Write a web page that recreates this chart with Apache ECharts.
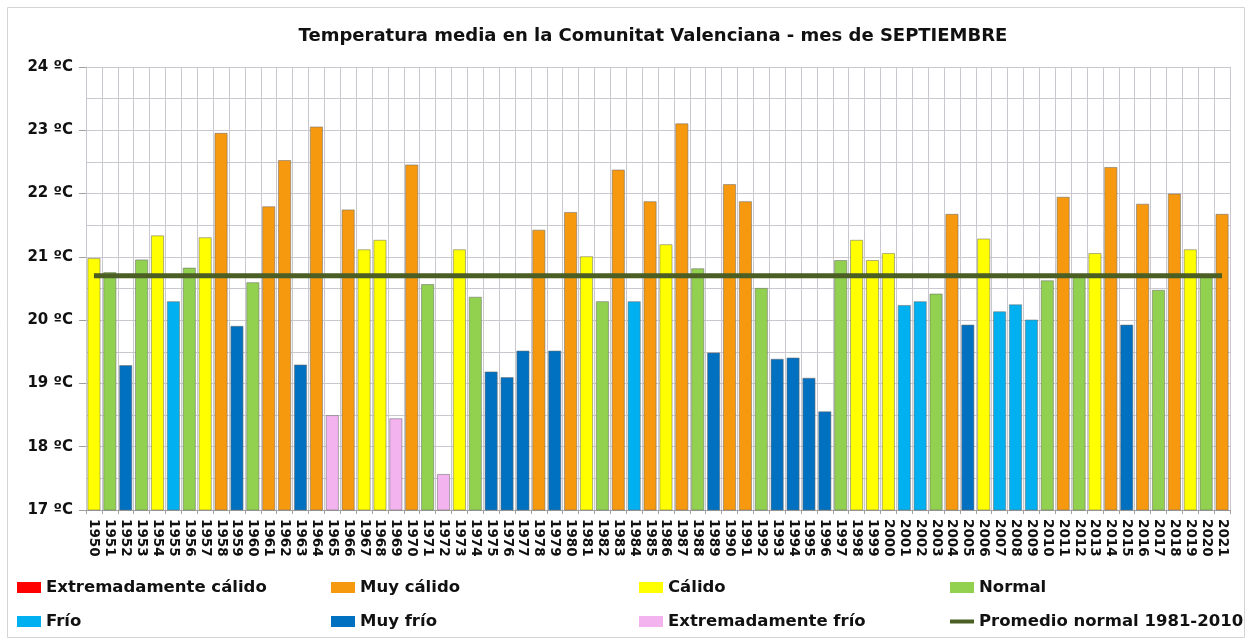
<!DOCTYPE html>
<html>
<head>
<meta charset="utf-8">
<script src="https://cdn.jsdelivr.net/npm/echarts@6/dist/echarts.min.js"></script>
<style>
  html, body { margin: 0; padding: 0; background: #fff; }
  #chart { width: 1250px; height: 641px; }
</style>
</head>
<body>
<div id="chart"></div>
<script>
const years = [
  1950, 1951, 1952, 1953, 1954, 1955, 1956, 1957, 1958, 1959,
  1960, 1961, 1962, 1963, 1964, 1965, 1966, 1967, 1968, 1969,
  1970, 1971, 1972, 1973, 1974, 1975, 1976, 1977, 1978, 1979,
  1980, 1981, 1982, 1983, 1984, 1985, 1986, 1987, 1988, 1989,
  1990, 1991, 1992, 1993, 1994, 1995, 1996, 1997, 1998, 1999,
  2000, 2001, 2002, 2003, 2004, 2005, 2006, 2007, 2008, 2009,
  2010, 2011, 2012, 2013, 2014, 2015, 2016, 2017, 2018, 2019,
  2020, 2021,
]

// temperatura media de septiembre (ºC)
const temps = [
  20.98, 20.76, 19.29, 20.96, 21.34, 20.30, 20.83, 21.31, 22.96, 19.91,
  20.60, 21.80, 22.53, 19.30, 23.06, 18.50, 21.75, 21.12, 21.27, 18.45,
  22.46, 20.57, 17.57, 21.12, 20.37, 19.19, 19.10, 19.52, 21.43, 19.52,
  21.71, 21.01, 20.30, 22.38, 20.30, 21.88, 21.20, 23.11, 20.82, 19.49,
  22.15, 21.88, 20.51, 19.39, 19.41, 19.09, 18.56, 20.95, 21.27, 20.95,
  21.06, 20.24, 20.30, 20.42, 21.68, 19.93, 21.29, 20.14, 20.25, 20.01,
  20.63, 21.95, 20.70, 21.06, 22.42, 19.93, 21.84, 20.48, 22.00, 21.12,
  20.72, 21.68,
]

// carácter de cada año: EC, MC, C, N, F, MF, EF
const classes = [
  'C', 'N', 'MF', 'N', 'C', 'F', 'N', 'C', 'MC', 'MF',
  'N', 'MC', 'MC', 'MF', 'MC', 'EF', 'MC', 'C', 'C', 'EF',
  'MC', 'N', 'EF', 'C', 'N', 'MF', 'MF', 'MF', 'MC', 'MF',
  'MC', 'C', 'N', 'MC', 'F', 'MC', 'C', 'MC', 'N', 'MF',
  'MC', 'MC', 'N', 'MF', 'MF', 'MF', 'MF', 'N', 'C', 'C',
  'C', 'F', 'F', 'N', 'MC', 'MF', 'C', 'F', 'F', 'F',
  'N', 'MC', 'N', 'C', 'MC', 'MF', 'MC', 'N', 'MC', 'C',
  'N', 'MC',
]

const classCodes = ['EC', 'MC', 'C', 'N', 'F', 'MF', 'EF']
const classNames = [
  'Extremadamente cálido', 'Muy cálido', 'Cálido', 'Normal',
  'Frío', 'Muy frío', 'Extremadamente frío',
]
const classColors = ['#ff0000', '#f7990f', '#ffff00', '#92d050', '#00b0f0', '#0070c0', '#f2b3ee']

const normalName = 'Promedio normal 1981-2010'
const normalValue = 20.70

const FONT = 'DejaVu Sans'
const GRID = '#c8c8ce'
const LINE = '#4b5e24'

const barSeries = classCodes.map((code, i) => ({
  name: classNames[i],
  type: 'bar',
  barGap: '-100%',
  barCategoryGap: '17%',
  data: temps.map((t, k) => (classes[k] === code ? t : '-')),
  itemStyle: { color: classColors[i], borderColor: 'rgba(110,110,110,0.55)', borderWidth: 1 },
  emphasis: { disabled: true },
}))

const legendText = { fontFamily: FONT, fontWeight: 'bold', fontSize: 16.5, color: '#111' }
function legendCol(left, top, names, h) {
  return {
    orient: 'vertical',
    left,
    top,
    itemGap: 17,
    itemWidth: 24,
    itemHeight: h || 11,
    icon: 'rect',
    itemStyle: { borderWidth: 0 },
    textStyle: legendText,
    data: names,
    selectedMode: false,
  }
}

const chart = echarts.init(document.getElementById('chart'))
chart.setOption({
  animation: false,
  backgroundColor: '#fff',
  textStyle: { fontFamily: FONT },
  title: {
    text: 'Temperatura media en la Comunitat Valenciana - mes de SEPTIEMBRE',
    left: 648,
    textAlign: 'center',
    top: 22,
    textStyle: { fontFamily: FONT, fontWeight: 'bold', fontSize: 18, color: '#111' },
  },
  graphic: [{
    type: 'rect',
    shape: { x: 7.5, y: 7.5, width: 1237, height: 630 },
    style: { fill: 'none', stroke: '#d4d4d4', lineWidth: 1 },
    silent: true,
  }],
  legend: [
    legendCol(12, 574, [classNames[0], classNames[4]]),
    legendCol(326, 574, [classNames[1], classNames[5]]),
    legendCol(634, 574, [classNames[2], classNames[6]]),
    legendCol(945, 574, [classNames[3]]),
    legendCol(945, 608, [normalName], 4),
  ],
  grid: { left: 86, right: 20, top: 67, bottom: 131 },
  xAxis: {
    type: 'category',
    data: years,
    axisLine: { lineStyle: { color: '#a0a0a0' } },
    axisTick: { show: true, interval: 0, length: 4, lineStyle: { color: '#a0a0a0' } },
    splitLine: { show: true, interval: 0, lineStyle: { color: GRID, width: 1 } },
    axisLabel: {
      interval: 0,
      rotate: -90,
      margin: 9,
      fontFamily: FONT,
      fontWeight: 'bold',
      fontSize: 13.5,
      color: '#111',
    },
  },
  yAxis: {
    type: 'value',
    min: 17,
    max: 24,
    interval: 1,
    axisLine: { show: true, lineStyle: { color: GRID } },
    axisTick: { show: true, length: 7, lineStyle: { color: '#a0a0a0' } },
    minorTick: { show: false, splitNumber: 2 },
    splitLine: { lineStyle: { color: GRID, width: 1 } },
    minorSplitLine: { show: true, lineStyle: { color: GRID, width: 1 } },
    axisLabel: {
      margin: 13,
      fontFamily: FONT,
      fontWeight: 'bold',
      fontSize: 15,
      color: '#111',
      formatter: (v) => `${v} ºC`,
    },
  },
  series: [
    ...barSeries,
    {
      name: normalName,
      type: 'line',
      data: years.map(() => normalValue),
      symbol: 'none',
      z: 5,
      lineStyle: { color: LINE, width: 5 },
      itemStyle: { color: LINE },
      emphasis: { disabled: true },
    },
  ],
})
</script>
</body>
</html>
